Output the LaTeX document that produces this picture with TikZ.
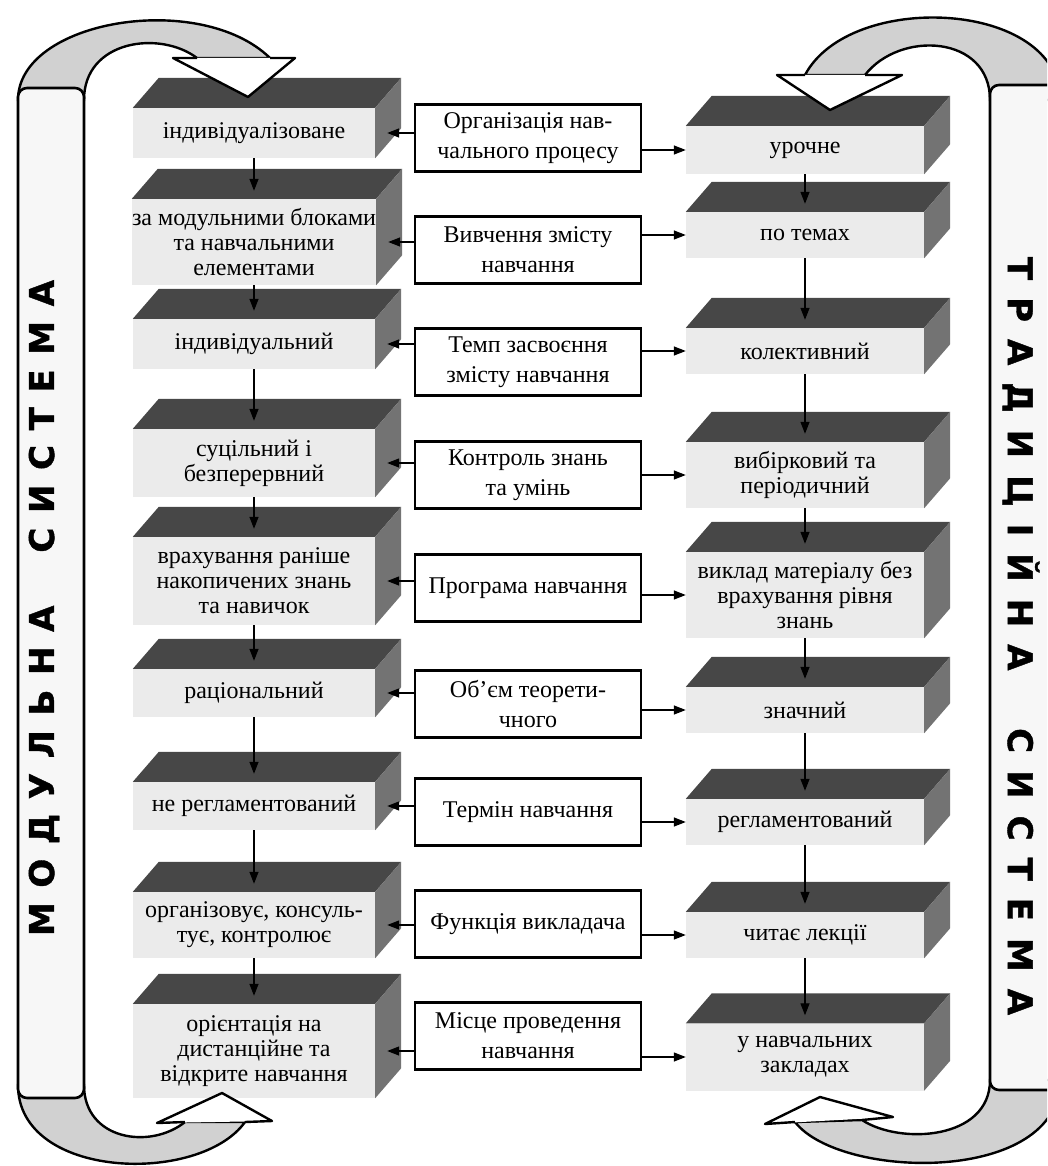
\documentclass[tikz,border=0pt]{standalone}
\usepackage{fontspec}
\setmainfont{Liberation Serif}
\newfontfamily\bandfont[UprightFont={* Bold},FakeBold=1.2,LetterSpace=43]{DejaVu Sans}
\usetikzlibrary{arrows.meta}

\begin{document}
\begin{tikzpicture}[x=1pt,y=-1pt,
    crit/.style={draw,line width=2.4pt,fill=white,minimum width=226pt,minimum height=67pt,
      align=center,inner sep=2pt,font=\fontsize{24}{30}\selectfont},
    front/.style={fill=black!8,minimum width=242pt,align=center,inner sep=0pt,
      font=\fontsize{24}{25}\selectfont},
    frontr/.style={front,minimum width=238pt},
    topface/.style={fill=black!72},
    sideface/.style={fill=black!55},
    link/.style={line width=1.3pt,-{Triangle[length=12pt,width=9pt]}},
    shaft/.style={fill=black!18,draw,line width=2.4pt},
    head/.style={fill=white},
    band/.style={draw,line width=2.6pt,fill=black!3,rounded corners=9pt}]
    \useasboundingbox (0,0) rectangle (1047,1166);
    \clip (0,0) rectangle (1047,1166);

    % curved shafts behind the bands
    \filldraw[shaft] (18,100) .. controls (18,20) and (200,-10) .. (270,58) -- (197,58)
        .. controls (160,30) and (84,40) .. (84,100) -- cycle;
    \filldraw[shaft] (1060,100) .. controls (1060,0) and (850,-10) .. (805,75) -- (865,75)
        .. controls (900,30) and (990,35) .. (990,100) -- cycle;
    \filldraw[shaft] (18,1085) .. controls (18,1180) and (200,1185) .. (245,1122) -- (185,1122)
        .. controls (150,1150) and (84,1140) .. (84,1085) -- cycle;
    \filldraw[shaft] (1060,1080) .. controls (1060,1185) and (840,1180) .. (795,1122) -- (862,1120)
        .. controls (900,1145) and (990,1140) .. (990,1080) -- cycle;

    % the two systems
    \draw[band] (18,88) rectangle (84,1098);
    \draw[band] (990,85) rectangle (1062,1090);
    \node[rotate=90] (modtitle) at (44,608) {\fontsize{34}{34}\bandfont МОДУЛЬНА \ СИСТЕМА};
    \node[rotate=-90] (tradtitle) at (1021,636) {\fontsize{34}{34}\bandfont\addfontfeature{LetterSpace=50}ТРАДИЦІЙНА \ СИСТЕМА};

    % criteria
    \node[crit] (m1) at (528,138) {Організація нав-\\чального процесу};
    \node[crit] (m2) at (528,250) {Вивчення змісту\\навчання};
    \node[crit] (m3) at (528,362) {Темп засвоєння\\змісту навчання};
    \node[crit] (m4) at (528,475) {Контроль знань\\та умінь};
    \node[crit] (m5) at (528,588) {Програма навчання};
    \node[crit] (m6) at (528,704) {Об’єм теорети-\\чного};
    \node[crit] (m7) at (528,812) {Термін навчання};
    \node[crit] (m8) at (528,924) {Функція викладача};
    \node[crit] (m9) at (528,1036) {Місце проведення\\навчання};

    % modular system
    \node[front,minimum height=50pt] (l1) at (254,133) {індивідуалізоване};
    \node[front,minimum height=86pt] (l2) at (254,242) {за модульними блоками\\та навчальними\\елементами};
    \node[front,minimum height=50pt] (l3) at (254,344) {індивідуальний};
    \node[front,minimum height=68pt] (l4) at (254,463) {суцільний і\\безперервний};
    \node[front,minimum height=88pt] (l5) at (254,581) {врахування раніше\\накопичених знань\\та навичок};
    \node[front,minimum height=48pt] (l6) at (254,693) {раціональний};
    \node[front,minimum height=48pt] (l7) at (254,806) {не регламентований};
    \node[front,minimum height=66pt] (l8) at (254,925) {організовує, консуль-\\тує, контролює};
    \node[front,minimum height=94pt] (l9) at (254,1051) {орієнтація на\\дистанційне та\\відкрите навчання};

    % traditional system
    \node[frontr,minimum height=48pt] (r1) at (805,150) {урочне};
    \node[frontr,minimum height=46pt] (r2) at (805,235) {по темах};
    \node[frontr,minimum height=46pt] (r3) at (805,351) {колективний};
    \node[frontr,minimum height=66pt] (r4) at (805,475) {вибірковий та\\періодичний};
    \node[frontr,minimum height=86pt] (r5) at (805,595) {виклад матеріалу без\\врахування рівня\\знань};
    \node[frontr,minimum height=46pt] (r6) at (805,710) {значний};
    \node[frontr,minimum height=46pt] (r7) at (805,822) {регламентований};
    \node[frontr,minimum height=46pt] (r8) at (805,935) {читає лекції};
    \node[frontr,minimum height=67pt] (r9) at (805,1057) {у навчальних\\закладах};

    \foreach \s in {l,r}
      \foreach \i in {1,...,9} {
        \fill[topface] (\s\i.north west) -- ([shift={(26,-30)}]\s\i.north west)
          -- ([shift={(26,-30)}]\s\i.north east) -- (\s\i.north east) -- cycle;
        \fill[sideface] (\s\i.north east) -- ([shift={(26,-30)}]\s\i.north east)
          -- ([shift={(26,-30)}]\s\i.south east) -- (\s\i.south east) -- cycle;
      }

    % connectors
    \foreach \i in {1,...,9} {
      \draw[link] (m\i.west |- l\i.east) -- ([xshift=12pt]l\i.east);
      \draw[link] (m\i.east |- r\i.west) -- (r\i.west);
    }
    \foreach \i/\j in {1/2,2/3,3/4,4/5,5/6,6/7,7/8,8/9} {
      \draw[link] (l\i.south) -- ([yshift=8pt]l\j.north);
      \draw[link] (r\i.south) -- ([yshift=8pt]r\j.north);
    }

    % arrow heads over the boxes
    \fill[head] (173,58) -- (248,97) -- (295,58) -- cycle;
    \draw[line width=2.4pt,line join=round] (197,58) -- (173,58) -- (248,97) -- (295,58) -- (270,58);
    \fill[head] (777,75) -- (830,110) -- (902,75) -- cycle;
    \draw[line width=2.4pt,line join=round] (805,75) -- (777,75) -- (830,110) -- (902,75) -- (865,75);
    \fill[head] (157,1123) -- (222,1093) -- (272,1121) -- cycle;
    \draw[line width=2.4pt,line join=round] (185,1122) -- (157,1123) -- (222,1093) -- (272,1121) -- (245,1122);
    \fill[head] (765,1124) -- (820,1097) -- (893,1117) -- cycle;
    \draw[line width=2.4pt,line join=round] (795,1122) -- (765,1124) -- (820,1097) -- (893,1117) -- (862,1120);
\end{tikzpicture}
\end{document}
